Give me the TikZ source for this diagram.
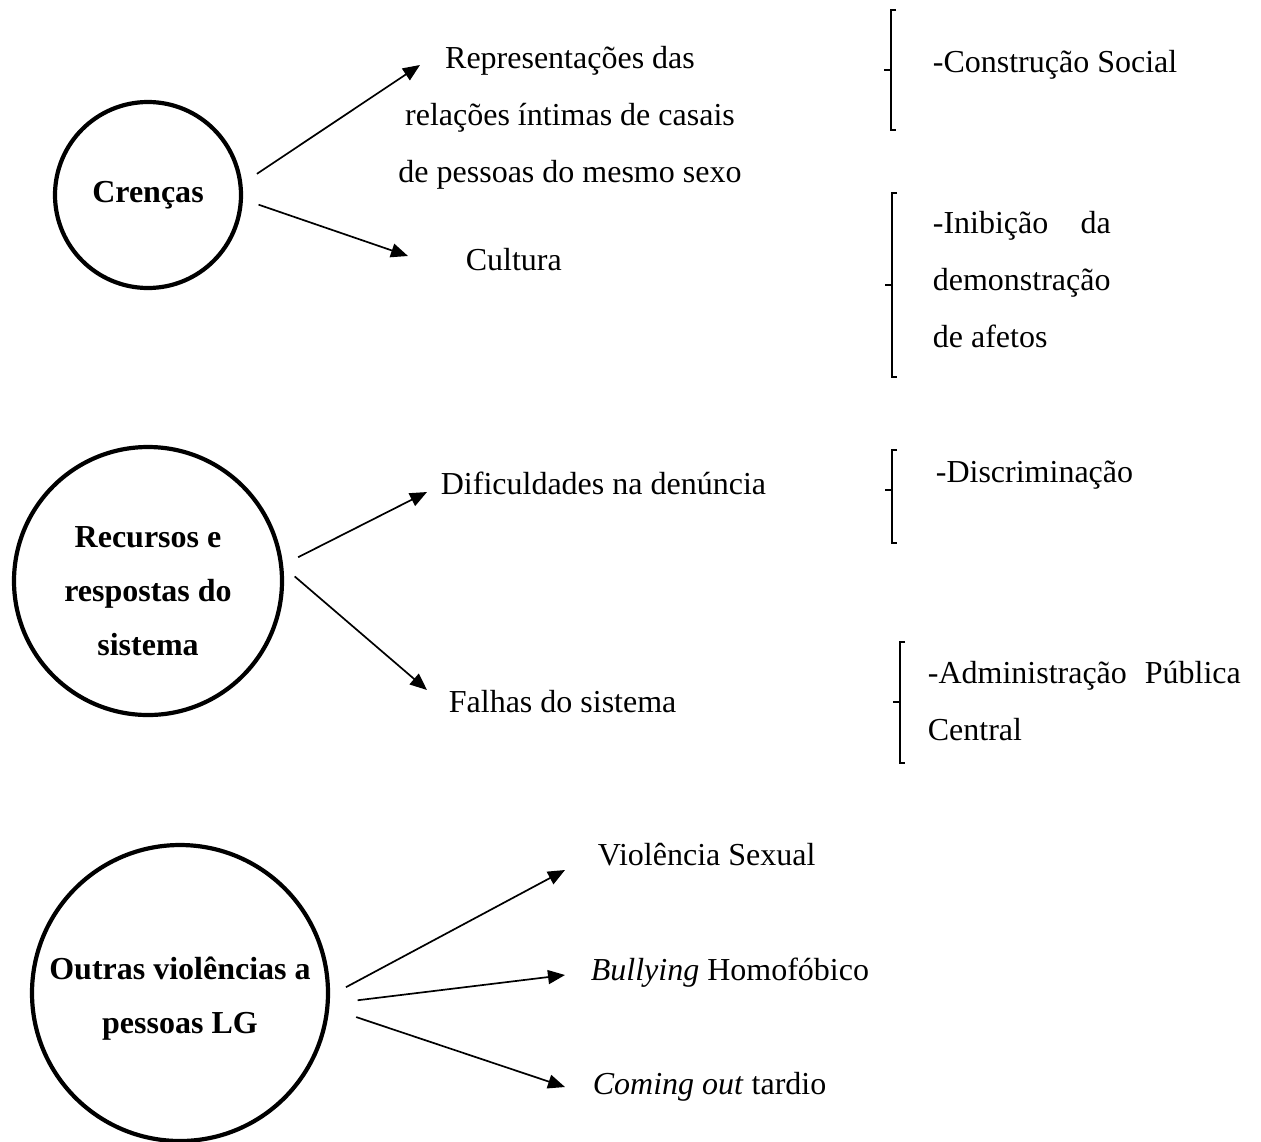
\documentclass[tikz,border=0pt]{standalone}
\usepackage{fontspec}
\setmainfont{Liberation Serif}
\usetikzlibrary{arrows.meta}

\tikzset{
    tema/.style={draw, circle, line width=2.1pt, inner sep=0pt, outer sep=9pt, align=center,
        font=\bfseries\fontsize{16}{27}\selectfont},
    rotulo/.style={inner sep=0pt, anchor=west, font=\fontsize{16}{28.5}\selectfont},
    chave/.style={line width=0.8pt},
}

\begin{document}
\begin{tikzpicture}[x=0.5pt, y=-0.5pt, >={Triangle[length=8.5pt, width=7pt]}, line width=0.85pt]
            \useasboundingbox (0, 0) rectangle (1261, 1141);
            \node[tema, minimum size=93pt] (crencas) at (148, 195) {Crenças};
            \node[tema, minimum size=134pt, text height=74.5pt] (recursos) at (148, 581) {Recursos e\\respostas do\\sistema};
            \node[tema, minimum size=148pt, text height=44pt] (outras) at (180, 993) {Outras violências a\\pessoas LG};
            \node[rotulo, anchor=center, align=center] (repr) at (570, 118) {Representações das\\relações íntimas de casais\\de pessoas do mesmo sexo};
            \node[rotulo] (cultura) at (465, 260) {Cultura};
            \node[rotulo] (dific) at (440, 483) {Dificuldades na denúncia};
            \node[rotulo] (falhas) at (448, 702) {Falhas do sistema};
            \node[rotulo] (viol) at (597, 855) {Violência Sexual};
            \node[rotulo] (bully) at (590, 973) {\textit{Bullying} Homofóbico};
            \node[rotulo] (coming) at (592, 1087) {\textit{Coming out} tardio};
            \node[rotulo] (constr) at (932, 65) {-Construção Social};
            \node[rotulo, align=left] (inib) at (932, 280) {\makebox[89pt][s]{-Inibição da}\\demonstração\\de afetos};
            \node[rotulo] (discr) at (935, 475) {-Discriminação};
            \node[rotulo, align=left] (admin) at (927, 701) {\makebox[156.5pt][s]{-Administração Pública}\\Central};
            \coordinate (pRepr) at (420, 65);
            \coordinate (pCult) at (408, 256);
            \coordinate (pDific) at (427, 492);
            \coordinate (pFalhas) at (427, 690);
            \coordinate (pViol) at (565, 870);
            \coordinate (pBully) at (565, 975);
            \coordinate (pComing) at (565, 1087);
            \draw[->] (crencas.11) -- (pRepr);
            \draw[->] (crencas.-5) -- (pCult);
            \draw[->] (recursos.9) -- (pDific);
            \draw[->, shorten <=-3.5pt] (recursos.0) -- (pFalhas);
            \draw[->] (outras.2) -- (pViol);
            \draw[->, shorten <=6pt] (outras.-3) -- (pBully);
            \draw[->, shorten <=6pt] (outras.-7) -- (pComing);
            \foreach \bx/\btop/\bmid/\bbot in {891/10/70/130, 892/193/285/377, 892/450/490/543, 900/642/702/763} {
                \draw[chave] (\bx+5, \btop) -- (\bx, \btop) -- (\bx, \bbot) -- (\bx+5, \bbot);
                \draw[chave] (\bx, \bmid) -- (\bx-7, \bmid);
            };
        \end{tikzpicture}
\end{document}
